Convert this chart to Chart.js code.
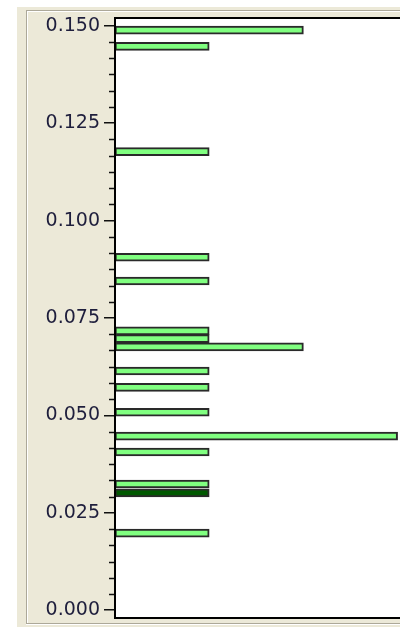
<!DOCTYPE html>
<html>
<head>
<meta charset="utf-8">
<script src="https://cdn.jsdelivr.net/npm/chart.js@4/dist/chart.umd.min.js"></script>
<style>
    body { margin: 0; background: #fff; overflow: hidden; width: 400px; height: 627px; }
    #panel { position: absolute; left: 17px; top: 7px; width: 500px; height: 620px; background: #ECE9D8; }
    #groove { position: absolute; left: 26px; top: 10px; width: 480px; height: 612px;
              border-top: 1px solid #ACA899; border-left: 1px solid #ACA899;
              border-bottom: 1px solid #ACA899;
              box-shadow: inset 1px 1px 0 #fff, 0 1px 0 #fff; }
    #wrap { position: absolute; left: 0; top: 0; }
</style>
</head>
<body>
<div id="panel"></div>
<div id="groove"></div>
<div id="wrap"><canvas id="chart" width="440" height="627"></canvas></div>
<script>
// bin positions (y) and counts (bar length)
const binValues = [0.1489, 0.1447, 0.1177, 0.0906, 0.0845, 0.0717, 0.0697, 0.0676,
                   0.0614, 0.0572, 0.0508, 0.0447, 0.0406, 0.0324, 0.0301, 0.0198];
const binCounts = [2, 1, 1, 1, 1, 1, 1, 2, 1, 1, 1, 3, 1, 1, 1, 1];
const selectedBin = 14;

// axis
const yMin = -0.002;
const yMax = 0.152;
const majorStep = 0.025;
const minorPerMajor = 6;
const xMax = 3.45;

const lightGreen = "#80FF80";
const darkGreen = "#005800";

// white plot area + black frame + minor ticks
const plotFrame = {
    id: "plotFrame",
    beforeDatasetsDraw(chart) {
        const a = chart.chartArea;
        const ctx = chart.ctx;
        ctx.save();
        ctx.fillStyle = "#fff";
        ctx.fillRect(a.left, a.top, a.right - a.left, a.bottom - a.top);
        ctx.restore();
    },
    afterDraw(chart) {
        const a = chart.chartArea;
        const ctx = chart.ctx;
        const yScale = chart.scales.y;
        ctx.save();
        ctx.strokeStyle = "#111";
        ctx.lineWidth = 1.5;
        const topMajor = Math.round(yMax / majorStep) * minorPerMajor;
        for (let i = 0; i <= topMajor; i++) {
            if (i % minorPerMajor === 0) continue;
            const v = i * majorStep / minorPerMajor;
            if (v > yMax) break;
            const p = Math.round(yScale.getPixelForValue(v)) + 0.5;
            ctx.beginPath();
            ctx.moveTo(a.left - 6, p);
            ctx.lineTo(a.left, p);
            ctx.stroke();
        }
        ctx.strokeStyle = "#000";
        ctx.lineWidth = 2;
        ctx.strokeRect(a.left, a.top, a.right - a.left, a.bottom - a.top);
        ctx.restore();
    }
};

const chartData = {
    datasets: [{
        data: binValues.map((v, i) => ({ x: binCounts[i], y: v })),
        backgroundColor: ctx => ctx.dataIndex === selectedBin ? darkGreen : lightGreen,
        borderColor: "#2a2a2a",
        borderWidth: 2,
        borderSkipped: false,
        barThickness: 8
    }]
};

new Chart(document.getElementById("chart"), {
    type: "bar",
    data: chartData,
    plugins: [plotFrame],
    options: {
        responsive: false,
        animation: false,
        indexAxis: "y",
        layout: { padding: { top: 18, bottom: 9, left: 0, right: 0 } },
        plugins: {
            legend: { display: false },
            tooltip: { enabled: false }
        },
        scales: {
            x: {
                type: "linear",
                min: 0,
                max: xMax,
                display: false
            },
            y: {
                type: "linear",
                position: "left",
                offset: false,
                min: yMin,
                max: yMax,
                afterFit(scale) {
                    scale.width = 115;
                    scale.paddingTop = 0;
                    scale.paddingBottom = 0;
                },
                border: { display: false },
                grid: {
                    offset: false,
                    drawOnChartArea: false,
                    tickLength: 11,
                    color: "#111",
                    lineWidth: 1.5
                },
                ticks: {
                    stepSize: majorStep,
                    includeBounds: false,
                    padding: 4,
                    color: "#1e1e3c",
                    font: { family: "DejaVu Sans", size: 19 },
                    callback: v => v.toFixed(3)
                }
            }
        }
    }
});
</script>
</body>
</html>
